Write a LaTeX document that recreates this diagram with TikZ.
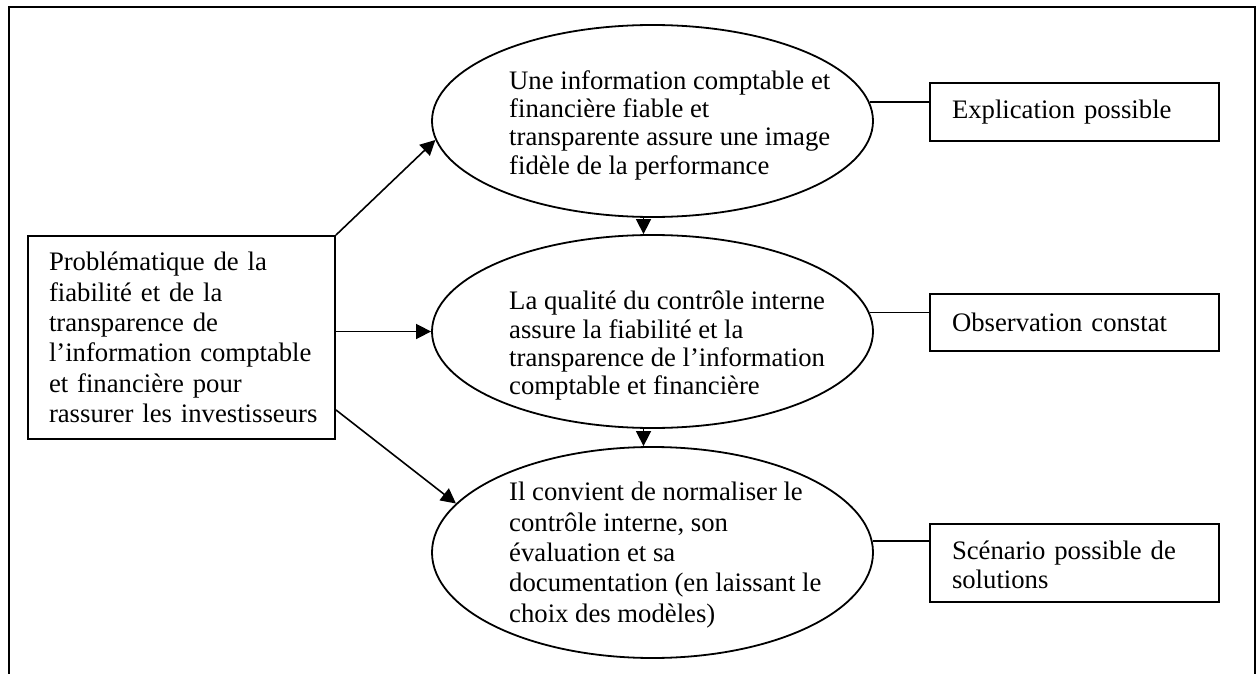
\documentclass[tikz,border=0pt]{standalone}
\usepackage{fontspec}
\setmainfont{Liberation Serif}
\usetikzlibrary{shapes.geometric,arrows.meta}
\begin{document}
\begin{tikzpicture}[x=1pt,y=-1pt,
  every node/.style={font=\fontsize{26.7}{28.3}\selectfont},
  widefont/.style={font=\fontsize{26.7}{30.3}\selectfont},
  shapeline/.style={draw,line width=1.8pt},
  boxnode/.style={shapeline,rectangle,align=left,inner ysep=0pt},
  ovalnode/.style={shapeline,ellipse,minimum width=441pt,inner sep=0pt},
  txtnode/.style={align=left,inner sep=0pt,anchor=west},
  arr/.style={line width=1.6pt,-{Triangle[length=15pt,width=15pt]}},
  link/.style={line width=1.6pt},
  frameline/.style={line width=2.4pt}]
\useasboundingbox (0,0) rectangle (1259,674);
\coordinate (fbl) at (9,674);
\coordinate (ftl) at (9,7);
\coordinate (ftr) at (1255,7);
\coordinate (fbr) at (1255,674);
\draw[frameline] (fbl) -- (ftl) -- (ftr) -- (fbr);

% left box
\node[boxnode, widefont, text width=265pt, inner xsep=21pt, minimum height=203pt] (b1) at (181.5,337.5)
  {\mbox{Problématique de la}\\\mbox{fiabilité et de la}\\\mbox{transparence de}\\\mbox{l’information comptable}\\\mbox{et financière pour}\\\mbox{rassurer les investisseurs}};

% ellipses
\node[ovalnode, minimum height=192pt] (e1) at (652.5,121) {};
\node[ovalnode, minimum height=193pt] (e2) at (652.5,331.5) {};
\node[ovalnode, minimum height=211pt] (e3) at (652.5,552.5) {};

\node[txtnode] (t1) at (509,125)
  {Une information comptable et\\financière fiable et\\transparente assure une image\\fidèle de la performance};
\node[txtnode] (t2) at (509,346)
  {La qualité du contrôle interne\\assure la fiabilité et la\\transparence de l’information\\comptable et financière};
\node[txtnode, widefont] (t3) at (509,555)
  {Il convient de normaliser le\\contrôle interne, son\\évaluation et sa\\documentation (en laissant le\\choix des modèles)};

% right boxes
\node[boxnode, text width=245pt, inner xsep=22pt, minimum height=58pt] (r1) at (1074.5,112) {Explication possible};
\node[boxnode, text width=245pt, inner xsep=22pt, minimum height=57pt] (r2) at (1074.5,322.5) {Observation constat};
\node[boxnode, text width=245pt, inner xsep=22pt, minimum height=78pt] (r3) at (1074.5,563) {\rule{0pt}{22pt}Scénario possible de\\solutions};

% connectors
\draw[arr] (b1.north east) -- (e1.185);
\draw[arr] (b1.east |- e2.west) -- (e2.west);
\draw[arr] ([yshift=30pt]b1.south east) -- (e3.166);
\draw[arr] ([xshift=-9pt]e1.south) -- ([xshift=-9pt]e2.north);
\draw[arr] ([xshift=-9pt]e2.south) -- ([xshift=-9pt]e3.north);
\draw[link] (e1.5) -- (e1.5 -| r1.west);
\draw[link] (e2.5) -- (e2.5 -| r2.west);
\draw[link] (e3.3) -- (e3.3 -| r3.west);
\end{tikzpicture}
\end{document}
